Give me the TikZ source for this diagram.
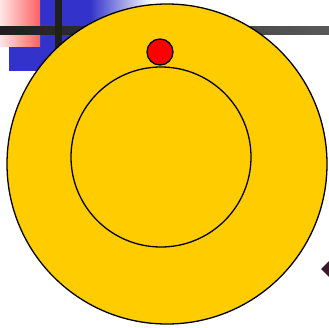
\documentclass[tikz,border=0pt]{standalone}
\usetikzlibrary{shapes.geometric}
\definecolor{myblue}{HTML}{3333CC}
\definecolor{myyellow}{HTML}{FFCC00}
\definecolor{mypink}{HTML}{FF6060}
\definecolor{mypale}{HTML}{FFE6E6}
\definecolor{mydia}{HTML}{3A1A2A}
\begin{document}
\begin{tikzpicture}[x=1pt,y=-1pt,
  ring/.style={circle,draw=black,line width=1.3pt,inner sep=0pt}]
\useasboundingbox (0,0) rectangle (329,327);
% blue block with fade
\fill[myblue] (9,0) rectangle (91,70.5);
\shade[left color=myblue,right color=white] (90,0) rectangle (152,70.5);
% pink block
\shade[shading=axis,shading angle=225,left color=mypale,right color=mypink] (0,0) rectangle (40,46);
% dark bars
\shade[left color=black!88,right color=black!65] (0,26) rectangle (329,34);
\fill[black!88] (55,0) rectangle (62,60);
% diamond
\node[diamond,fill=mydia,minimum width=16pt,minimum height=16pt,inner sep=0pt] (dm) at (329,269) {};
% circles
\node[ring,fill=myyellow,minimum size=320pt] (outer) at (167,164) {};
\node[ring,fill=myyellow,minimum size=180pt] (inner) at (161,157) {};
\node[ring,fill=red,minimum size=26pt] (dot) at (160,52) {};
\end{tikzpicture}
\end{document}
